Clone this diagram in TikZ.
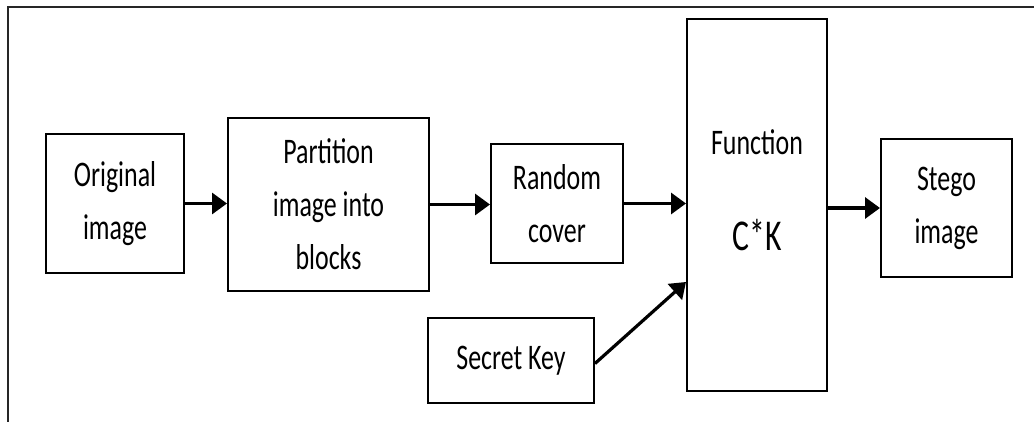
\documentclass[tikz,border=0pt]{standalone}
\usepackage{fontspec}
\setmainfont{Carlito}[FakeStretch=0.72]
\usetikzlibrary{arrows.meta}
\tikzset{
  blk/.style={draw=black, line width=2pt, fill=white, inner sep=0pt, align=center,
    font=\fontsize{36}{53}\selectfont},
  flow/.style={line width=3.2pt, -{Triangle[length=15pt,width=21pt]}},
  frame/.style={line width=2.2pt, draw=black!85}
}
\begin{document}
\begin{tikzpicture}[x=1pt, y=-1pt]
  \useasboundingbox (0,0) rectangle (1034,422);
  % outer frame (top and left edges)
  \coordinate (ftl) at (8,7);
  \coordinate (ftr) at (1034,7);
  \coordinate (fbl) at (8,422);
  \draw[frame] (ftr) -- (ftl) -- (fbl);

  % blocks
  \node[blk, minimum width=138pt, minimum height=139pt] (orig) at (115,203.5) {Original\\image};
  \node[blk, minimum width=201pt, minimum height=173pt] (part) at (328.5,204.5) {Partition\\image into\\blocks};
  \node[blk, minimum width=132pt, minimum height=119pt] (rand) at (557,203.5) {Random\\cover};
  \node[blk, minimum width=140pt, minimum height=372pt] (func) at (757,205) {};
  \node[font=\fontsize{36}{40}\selectfont, inner sep=0pt] (ftitle) at (757,142) {Function};
  \node[font=\fontsize{44}{48}\selectfont, inner sep=0pt] (fexpr) at (757,235) {C*K};
  \node[blk, minimum width=131pt, minimum height=138pt] (stego) at (946.5,208) {Stego\\image};
  \node[blk, minimum width=166pt, minimum height=85pt] (secret) at (511,360.5) {Secret Key};

  % connectors
  \draw[flow] (orig.east) -- (orig.east -| part.west);
  \draw[flow] (part.east) -- (part.east -| rand.west);
  \draw[flow] (rand.east) -- (rand.east -| func.west);
  \draw[flow] (stego.west -| func.east) -- (stego.west);
  \draw[flow] ([yshift=-3pt]secret.east) -- ([yshift=-77pt]func.west);
\end{tikzpicture}
\end{document}
